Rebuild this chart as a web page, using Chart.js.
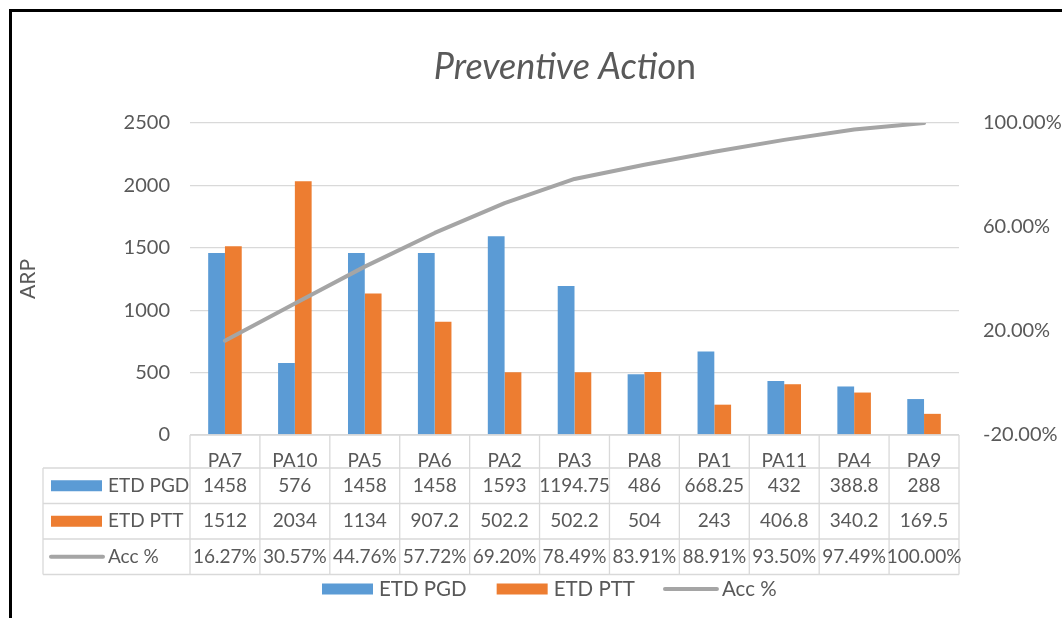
<!DOCTYPE html>
<html>
<head>
<meta charset="utf-8">
<script src="https://cdn.jsdelivr.net/npm/chart.js@4.4.1/dist/chart.umd.min.js"></script>
<style>
  html, body { margin: 0; padding: 0; background: #fff; }
  #wrap { position: relative; width: 1062px; height: 618px; }
</style>
</head>
<body>
<div id="wrap"><canvas id="c" width="1062" height="618"></canvas></div>
<script>
// Data
const categories = ['PA7', 'PA10', 'PA5', 'PA6', 'PA2', 'PA3', 'PA8', 'PA1', 'PA11', 'PA4', 'PA9'];
const etdPgd = [1458, 576, 1458, 1458, 1593, 1194.75, 486, 668.25, 432, 388.8, 288];
const etdPtt = [1512, 2034, 1134, 907.2, 502.2, 502.2, 504, 243, 406.8, 340.2, 169.5];
const accPct = [16.27, 30.57, 44.76, 57.72, 69.20, 78.49, 83.91, 88.91, 93.50, 97.49, 100.00];

// Axis ranges (left: ARP, right: Acc %)
const arpTicks = [0, 2500, 500];
const accTicks = [-20, 100, 40];

const TEXT = '#595959';
const GRID = '#D9D9D9';
const BLUE = '#5B9BD5';
const ORANGE = '#ED7D31';
const GRAY = '#A5A5A5';

Chart.defaults.font.family = 'Lato';
Chart.defaults.color = TEXT;

// Excel-like decorations: border, title, data table, legend
const excelBits = {
  id: 'excelBits',
  beforeDraw(chart) {
    const ctx = chart.ctx;
    ctx.save();
    ctx.fillStyle = '#fff';
    ctx.fillRect(0, 0, chart.width, chart.height);
    ctx.restore();
  },
  afterDraw(chart) {
    const ctx = chart.ctx;
    const xs = chart.scales.x;
    const area = chart.chartArea;
    const n = categories.length;
    const sets = chart.data.datasets;

    // column edges from the category scale
    const edges = [xs.left];
    for (let i = 1; i < n; i++) edges.push((xs.getPixelForTick(i - 1) + xs.getPixelForTick(i)) / 2);
    edges.push(xs.right);

    const tableLeft = 43;
    const headerH = 33, rowH = 35.5;
    const rows = [area.bottom, area.bottom + headerH];
    for (let r = 1; r <= sets.length; r++) rows.push(area.bottom + headerH + rowH * r);
    const bottom = rows[rows.length - 1];

    ctx.save();
    ctx.strokeStyle = GRID;
    ctx.lineWidth = 1.3;
    ctx.beginPath();
    // horizontal lines
    ctx.moveTo(area.left, rows[0]); ctx.lineTo(area.right, rows[0]);
    for (let r = 1; r < rows.length; r++) {
      ctx.moveTo(tableLeft, rows[r]); ctx.lineTo(area.right, rows[r]);
    }
    // vertical lines
    ctx.moveTo(tableLeft, rows[1]); ctx.lineTo(tableLeft, bottom);
    edges.forEach(x => { ctx.moveTo(x, rows[0]); ctx.lineTo(x, bottom); });
    ctx.stroke();

    // rows
    ctx.font = '19px Lato';
    ctx.fillStyle = TEXT;
    ctx.textBaseline = 'middle';
    sets.forEach((ds, r) => {
      const yc = (rows[r + 1] + rows[r + 2]) / 2;
      drawKey(ctx, ds, 51, yc);
      ctx.fillStyle = TEXT;
      ctx.textAlign = 'left';
      ctx.fillText(ds.label, 108, yc);
      ctx.textAlign = 'center';
      ds.data.forEach((v, i) => {
        const txt = ds.type === 'line' ? v.toFixed(2) + '%' : String(v);
        ctx.fillText(txt, xs.getPixelForTick(i), yc);
      });
    });

    // title (the last letter is upright in the original)
    ctx.fillStyle = TEXT;
    ctx.textAlign = 'left';
    ctx.font = 'italic 36px Lato';
    const head = 'Preventive Actio';
    const wHead = ctx.measureText(head).width;
    ctx.font = '36px Lato';
    const wTail = ctx.measureText('n').width;
    const tx = 565 - (wHead + wTail) / 2;
    ctx.font = 'italic 36px Lato';
    ctx.fillText(head, tx, 67);
    ctx.font = '36px Lato';
    ctx.fillText('n', tx + wHead, 67);

    // legend
    ctx.font = '20.5px Lato';
    ctx.textAlign = 'left';
    let lx = 322;
    const ly = 589;
    sets.forEach(ds => {
      drawKey(ctx, ds, lx, ly);
      ctx.fillStyle = TEXT;
      ctx.fillText(ds.label, lx + 57, ly);
      lx += 57 + ctx.measureText(ds.label).width + 30;
    });

    // outer border
    ctx.strokeStyle = '#000';
    ctx.lineWidth = 3;
    ctx.beginPath();
    ctx.moveTo(10.5, chart.height);
    ctx.lineTo(10.5, 10.5);
    ctx.lineTo(chart.width, 10.5);
    ctx.stroke();
    ctx.restore();
  }
};

function drawKey(ctx, ds, x, yc) {
  if (ds.type === 'line') {
    ctx.strokeStyle = ds.borderColor;
    ctx.lineWidth = 4;
    ctx.lineCap = 'round';
    ctx.beginPath();
    ctx.moveTo(x, yc); ctx.lineTo(x + 52, yc);
    ctx.stroke();
    ctx.strokeStyle = GRID;
    ctx.lineWidth = 1.3;
    ctx.lineCap = 'butt';
  } else {
    ctx.fillStyle = ds.backgroundColor;
    ctx.fillRect(x, yc - 5.5, 51, 11);
  }
}

new Chart(document.getElementById('c'), {
  type: 'bar',
  data: {
    labels: categories,
    datasets: [
      { type: 'bar', label: 'ETD PGD', data: etdPgd, backgroundColor: BLUE, yAxisID: 'y', order: 1,
        categoryPercentage: 0.48, barPercentage: 1 },
      { type: 'bar', label: 'ETD PTT', data: etdPtt, backgroundColor: ORANGE, yAxisID: 'y', order: 1,
        categoryPercentage: 0.48, barPercentage: 1 },
      { type: 'line', label: 'Acc %', data: accPct, borderColor: GRAY, backgroundColor: GRAY,
        borderWidth: 4, pointRadius: 0, tension: 0, yAxisID: 'y1', order: 0,
        borderCapStyle: 'round', borderJoinStyle: 'round' }
    ]
  },
  options: {
    responsive: false,
    animation: false,
    devicePixelRatio: 1,
    layout: { padding: { top: 123, bottom: 150, left: 0, right: 0 } },
    plugins: {
      legend: { display: false },
      title: { display: false },
      tooltip: { enabled: false }
    },
    scales: {
      x: {
        offset: true,
        grid: { display: false },
        border: { display: false },
        ticks: { font: { size: 19 }, color: TEXT, padding: 6, maxRotation: 0, autoSkip: false },
        afterFit(s) { s.height = 33; }
      },
      y: {
        position: 'left',
        min: arpTicks[0], max: arpTicks[1],
        ticks: { stepSize: arpTicks[2], font: { size: 20 }, color: TEXT, padding: 20,
          callback: v => String(v) },
        grid: { color: GRID, lineWidth: 1.3, drawTicks: false },
        border: { display: false },
        title: { display: true, text: 'ARP', font: { size: 21 }, color: TEXT, padding: { top: 16, bottom: 0 } },
        afterFit(s) { s.width = 190; }
      },
      y1: {
        position: 'right',
        min: accTicks[0], max: accTicks[1],
        ticks: { stepSize: accTicks[2], font: { size: 20 }, color: TEXT, padding: 24,
          callback: v => v.toFixed(2) + '%' },
        grid: { display: false, drawTicks: false },
        border: { display: false },
        afterFit(s) { s.width = 103; }
      }
    }
  },
  plugins: [excelBits]
});
</script>
</body>
</html>
